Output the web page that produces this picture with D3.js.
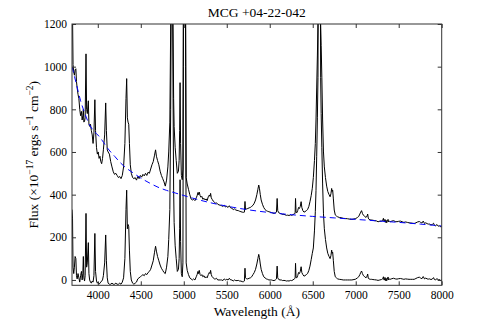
<!DOCTYPE html>
<html>
<head>
<meta charset="utf-8">
<script src="https://cdnjs.cloudflare.com/ajax/libs/d3/7.8.5/d3.min.js"></script>
<style>
  body { margin: 0; background: #fff; }
  svg text { font-family: 'Liberation Serif', 'DejaVu Serif', serif; fill: #000; }
</style>
</head>
<body>
<div id="spectrum-chart"></div>
<script>
// wavelength grid (Angstrom), shared by both black spectra
var wavelength = [
  3700, 3706, 3712, 3720, 3728, 3736, 3745, 3752, 3760, 3770,
  3780, 3790, 3800, 3810, 3818, 3826, 3832, 3838, 3846, 3853,
  3863, 3870, 3878, 3890, 3897, 3905, 3915, 3925, 3935, 3945,
  3955, 3966, 3974, 3985, 3995, 4005, 4015, 4025, 4035, 4045,
  4055, 4065, 4080, 4092, 4100, 4110, 4120, 4135, 4150, 4165,
  4180, 4195, 4210, 4225, 4240, 4255, 4270, 4285, 4300, 4315,
  4328, 4336, 4344, 4352, 4360, 4368, 4378, 4390, 4405, 4420,
  4435, 4450, 4465, 4480, 4495, 4510, 4525, 4540, 4555, 4570,
  4585, 4600, 4615, 4630, 4645, 4660, 4672, 4682, 4695, 4710,
  4725, 4740, 4755, 4770, 4785, 4800, 4815, 4825, 4838, 4848,
  4855, 4862, 4869, 4875, 4882, 4888, 4900, 4912, 4925, 4938,
  4946, 4952, 4957, 4963, 4972, 4982, 4990, 4995, 5000, 5007,
  5014, 5022, 5028, 5040, 5055, 5070, 5085, 5100, 5115, 5130,
  5145, 5155, 5165, 5172, 5180, 5190, 5200, 5210, 5222, 5235,
  5248, 5260, 5272, 5285, 5297, 5305, 5312, 5320, 5330, 5342,
  5355, 5368, 5380, 5395, 5410, 5425, 5440, 5455, 5470, 5485,
  5500, 5515, 5530, 5545, 5560, 5575, 5590, 5605, 5620, 5635,
  5650, 5665, 5680, 5695, 5705, 5712, 5718, 5730, 5745, 5760,
  5775, 5790, 5805, 5820, 5835, 5850, 5862, 5872, 5880, 5890,
  5900, 5915, 5930, 5945, 5960, 5975, 5990, 6005, 6020, 6035,
  6050, 6065, 6078, 6086, 6093, 6105, 6120, 6135, 6150, 6165,
  6180, 6195, 6210, 6225, 6240, 6255, 6270, 6285, 6295, 6300,
  6306, 6315, 6325, 6335, 6345, 6355, 6365, 6373, 6385, 6398,
  6410, 6425, 6440, 6455, 6468, 6482, 6495, 6507, 6520, 6530,
  6538, 6546, 6554, 6561, 6566, 6571, 6576, 6581, 6586, 6592,
  6598, 6606, 6615, 6625, 6635, 6648, 6662, 6675, 6690, 6702,
  6712, 6720, 6726, 6732, 6740, 6750, 6762, 6775, 6790, 6810,
  6830, 6855, 6880, 6905, 6930, 6955, 6980, 7000, 7020, 7035,
  7048, 7058, 7068, 7078, 7090, 7105, 7120, 7132, 7139, 7146,
  7155, 7170, 7185, 7200, 7220, 7240, 7260, 7280, 7300, 7315,
  7322, 7328, 7334, 7340, 7347, 7353, 7360, 7368, 7376, 7383,
  7392, 7400, 7420, 7440, 7460, 7480, 7500, 7520, 7540, 7560,
  7580, 7600, 7620, 7640, 7660, 7680, 7700, 7720, 7740, 7755,
  7770, 7785, 7800, 7815, 7830, 7845, 7860, 7875, 7890, 7905,
  7915, 7930, 7945, 7960, 7975, 7990, 8000
];

// observed spectrum (upper black line)
var fluxObserved = [
  1350, 1250, 1010, 975, 960, 985, 990, 930, 900, 870,
  850, 800, 770, 790, 750, 770, 800, 740, 745, 760,
  1060, 800, 780, 840, 730, 720, 730, 700, 680, 640,
  690, 845, 700, 620, 590, 600, 570, 580, 555, 545,
  570, 610, 680, 830, 700, 610, 600, 590, 555, 530,
  507, 495, 500, 490, 480, 485, 475, 490, 530, 640,
  850, 944, 760, 740, 730, 640, 540, 500, 480, 475,
  480, 468, 485, 475, 490, 482, 495, 488, 500, 490,
  505, 500, 520, 540, 555, 585, 610, 580, 560, 540,
  510, 490, 475, 460, 440, 468, 530, 600, 740, 1200,
  1800, 2000, 1800, 1200, 850, 720, 620, 560, 500, 510,
  560, 700, 925, 640, 490, 470, 520, 1200, 2500, 3500,
  2500, 1200, 480, 450, 425, 400, 380, 375, 378, 372,
  385, 395, 410, 400, 412, 395, 388, 392, 378, 383,
  375, 380, 372, 390, 398, 392, 406, 385, 378, 370,
  365, 360, 362, 355, 352, 350, 348, 345, 350, 342,
  345, 340, 348, 338, 336, 330, 333, 328, 326, 325,
  322, 320, 318, 317, 318, 368, 330, 333, 335, 338,
  340, 345, 350, 360, 375, 400, 425, 445, 430, 400,
  375, 355, 340, 330, 325, 322, 320, 318, 316, 314,
  312, 315, 318, 382, 325, 315, 312, 310, 307, 308,
  305, 303, 304, 302, 305, 303, 306, 310, 312, 382,
  318, 315, 325, 340, 335, 345, 367, 340, 325, 318,
  320, 325, 330, 345, 367, 395, 430, 480, 560, 640,
  750, 900, 1050, 1200, 2200, 3200, 3600, 3200, 2200, 1200,
  1100, 950, 750, 600, 530, 480, 440, 415, 400, 390,
  405, 429, 415, 421, 380, 328, 305, 300, 296, 293,
  292, 289, 288, 287, 285, 284, 286, 288, 293, 298,
  309, 318, 325, 312, 303, 298, 293, 300, 309, 290,
  284, 282, 281, 280, 278, 277, 273, 275, 276, 280,
  289, 275, 273, 284, 270, 280, 268, 275, 284, 272,
  276, 273, 276, 278, 274, 273, 275, 276, 273, 270,
  272, 270, 268, 267, 266, 265, 268, 272, 274, 270,
  267, 276, 265, 268, 264, 262, 262, 258, 260, 266,
  256, 254, 260, 252, 254, 248, 250
];

// continuum-subtracted spectrum (lower black line)
var fluxResidual = [
  330, 290, 60, 30, 60, 110, 100, 20, 5, 30,
  10, -10, 20, 40, 0, 30, 110, 10, -5, 20,
  312, 60, 80, 175, 30, 0, -10, -15, -5, -10,
  20, 218, 40, -5, -15, -10, -20, -15, -10, -5,
  0, 20, 80, 211, 90, 10, -15, -20, -20, -15,
  -20, -20, -15, -20, -20, -15, -20, -10, 10, 100,
  330, 421, 240, 260, 250, 140, 40, 0, -15, -20,
  -15, -10, 5, 10, 15, 20, 25, 20, 30, 25,
  35, 40, 50, 70, 90, 130, 158, 135, 110, 90,
  70, 55, 45, 35, 30, 60, 110, 190, 330, 800,
  1400, 1600, 1400, 900, 420, 270, 160, 100, 40, 50,
  100, 240, 470, 180, 30, 15, 80, 1000, 2100, 3100,
  2100, 1000, 80, 45, 25, 10, 5, 0, 5, 0,
  15, 25, 40, 30, 45, 25, 20, 25, 15, 20,
  10, 15, 10, 25, 35, 30, 45, 25, 15, 10,
  5, 5, 8, 0, 0, 0, 0, -3, 5, 0,
  3, 0, 8, 0, 0, -5, 0, -3, -3, -2,
  -5, -5, -8, -8, -5, 55, 10, 5, 5, 8,
  10, 15, 25, 35, 50, 75, 100, 120, 105, 75,
  50, 30, 15, 10, 5, 3, 0, 0, 0, -2,
  -3, 0, 5, 65, 10, 2, 0, 0, -3, -2,
  -3, -5, -4, -5, -2, -3, 0, 5, 8, 78,
  12, 10, 20, 35, 30, 40, 62, 35, 25, 18,
  20, 25, 30, 45, 65, 95, 125, 150, 230, 320,
  420, 580, 760, 950, 1800, 2800, 3200, 2800, 1800, 950,
  780, 620, 450, 310, 240, 190, 150, 125, 110, 100,
  115, 140, 125, 130, 90, 40, 15, 10, 5, 3,
  2, 0, 0, 0, 0, 0, 2, 4, 10, 15,
  25, 35, 42, 30, 20, 15, 10, 18, 28, 8,
  5, 3, 3, 2, 1, 0, -2, 0, 2, 6,
  15, 0, 0, 12, -3, 8, -4, 4, 14, 0,
  5, 3, 6, 8, 5, 4, 6, 7, 5, 3,
  5, 4, 3, 3, 3, 3, 7, 11, 13, 9,
  6, 16, 5, 9, 5, 4, 5, 2, 4, 11,
  2, 0, 7, 0, 2, -3, 0
];

// continuum fit (blue dashed line)
var contWavelength = [3700, 3750, 3800, 3850, 3900, 3950, 4000, 4050, 4100, 4150,
  4200, 4250, 4300, 4400, 4500, 4600, 4700, 4800, 4900, 5000,
  5100, 5300, 5500, 5750, 6000, 6250, 6500, 6750, 7000, 7250,
  7500, 7750, 8000];
var contFlux = [1000, 920, 840, 780, 730, 700, 680, 655, 625, 600,
  578, 555, 535, 505, 478, 455, 435, 420, 408, 396,
  384, 363, 346, 329, 316, 306, 298, 291, 284, 277,
  270, 262, 253];

var xTicks = [4000, 4500, 5000, 5500, 6000, 6500, 7000, 7500, 8000];
var yTicks = [0, 200, 400, 600, 800, 1000, 1200];

var serif = 'Liberation Serif, DejaVu Serif, serif';

var drawSpectrum = function(){
  var width = 478, height = 327;
  var left = 72, right = 441.7, top = 24, bottom = 285.3;

  var svg = d3.select('#spectrum-chart').append('svg')
    .attr('width', width)
    .attr('height', height);

  var x = d3.scaleLinear().domain([3700, 8000]).range([left, right]);
  var y = d3.scaleLinear().domain([-25, 1200]).range([bottom, top]);

  svg.append('clipPath').attr('id', 'plot-clip')
    .append('rect')
    .attr('x', left).attr('y', top)
    .attr('width', right - left).attr('height', bottom - top);

  var plot = svg.append('g').attr('clip-path', 'url(#plot-clip)');

  var line = function(ys){
    return d3.line()
      .x(function(d, i){ return x(wavelength[i]); })
      .y(function(d){ return y(d); })(ys);
  };

  plot.append('path')
    .attr('d', line(fluxObserved))
    .attr('fill', 'none')
    .attr('stroke', '#000')
    .attr('stroke-width', 1);

  plot.append('path')
    .attr('d', line(fluxResidual))
    .attr('fill', 'none')
    .attr('stroke', '#000')
    .attr('stroke-width', 1);

  var contLine = d3.line()
    .x(function(d, i){ return x(contWavelength[i]); })
    .y(function(d){ return y(d); })
    .curve(d3.curveMonotoneX);

  plot.append('path')
    .attr('d', contLine(contFlux))
    .attr('fill', 'none')
    .attr('stroke', '#0000ff')
    .attr('stroke-width', 1)
    .attr('stroke-dasharray', '6,4');

  // axes, ticks pointing inward on all four sides
  var styleAxis = function(g){
    g.attr('font-family', serif).attr('font-size', 11.5);
    g.select('.domain').remove();
    g.selectAll('.tick line').attr('stroke', '#333');
  };

  svg.append('g')
    .attr('transform', 'translate(0,' + bottom + ')')
    .call(d3.axisBottom(x).tickValues(xTicks).tickFormat(d3.format('d'))
      .tickSizeInner(-4).tickSizeOuter(0).tickPadding(6))
    .call(styleAxis);

  svg.append('g')
    .attr('transform', 'translate(0,' + top + ')')
    .call(d3.axisTop(x).tickValues(xTicks).tickFormat('')
      .tickSizeInner(-4).tickSizeOuter(0))
    .call(styleAxis);

  svg.append('g')
    .attr('transform', 'translate(' + left + ',0)')
    .call(d3.axisLeft(y).tickValues(yTicks).tickFormat(d3.format('d'))
      .tickSizeInner(-4).tickSizeOuter(0).tickPadding(5))
    .call(styleAxis);

  svg.append('g')
    .attr('transform', 'translate(' + right + ',0)')
    .call(d3.axisRight(y).tickValues(yTicks).tickFormat('')
      .tickSizeInner(-4).tickSizeOuter(0))
    .call(styleAxis);

  svg.append('rect')
    .attr('x', left).attr('y', top)
    .attr('width', right - left).attr('height', bottom - top)
    .attr('fill', 'none')
    .attr('stroke', '#333')
    .attr('stroke-width', 1);

  // title and axis labels
  svg.append('text')
    .attr('x', (left + right) / 2)
    .attr('y', 17)
    .attr('text-anchor', 'middle')
    .attr('font-size', 13.5)
    .text('MCG +04-22-042');

  svg.append('text')
    .attr('x', (left + right) / 2)
    .attr('y', 316)
    .attr('text-anchor', 'middle')
    .attr('font-size', 13.5)
    .text('Wavelength (Å)');

  var ylab = svg.append('text')
    .attr('transform', 'translate(38,' + ((top + bottom) / 2) + ') rotate(-90)')
    .attr('text-anchor', 'middle')
    .attr('font-size', 13.5);
  ylab.append('tspan').text('Flux (×10');
  ylab.append('tspan').attr('dy', -5).attr('font-size', 9.5).text('−17');
  ylab.append('tspan').attr('dy', 5).text(' ergs s');
  ylab.append('tspan').attr('dy', -5).attr('font-size', 9.5).text('−1');
  ylab.append('tspan').attr('dy', 5).text(' cm');
  ylab.append('tspan').attr('dy', -5).attr('font-size', 9.5).text('−2');
  ylab.append('tspan').attr('dy', 5).text(')');
};

drawSpectrum();
</script>
</body>
</html>
